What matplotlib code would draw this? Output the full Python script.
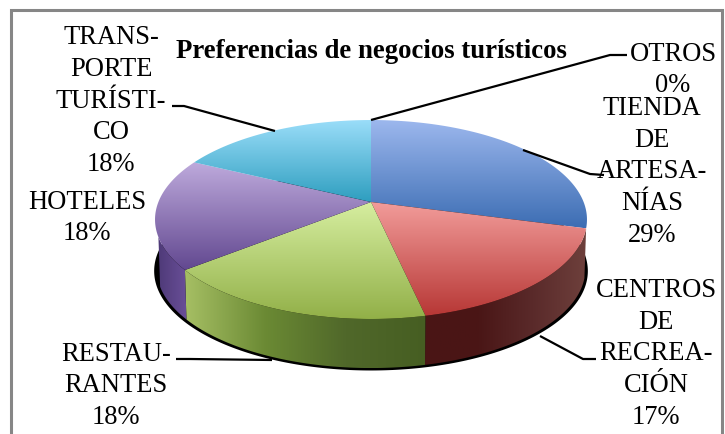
import numpy as np
import matplotlib
matplotlib.use("Agg")
import matplotlib.pyplot as plt
from matplotlib.colors import LinearSegmentedColormap as LSC
from matplotlib.patches import Polygon, Rectangle

title = "Preferencias de negocios turísticos"
categories = ["TIENDA\nDE\nARTESA-\nNÍAS", "CENTROS\nDE\nRECREA-\nCIÓN", "RESTAU-\nRANTES",
              "HOTELES", "TRANS-\nPORTE\nTURÍSTI-\nCO", "OTROS"]
values = [29.2, 17.4, 17.6, 18.1, 17.7, 0.0]
shown = [29, 17, 18, 18, 18, 0]
top_colors = [("#9DB8EE", "#3C6DB3"), ("#F29C9A", "#B73735"), ("#D6EEA0", "#92B048"),
              ("#BEAADC", "#624890"), ("#9ADDF9", "#2E9EBF")]
side_colors = [None, ["#4A1515", "#4A1616", "#5A2A2A", "#6E403C"],
               ["#A6BF64", "#6B8A34", "#50682A", "#465E22"],
               ["#4E3A78", "#6A4F98"], None]
label_pos = [(652, 172), (656, 354), (116, 386), (87, 218), (111, 101), (673, 70)]
leaders = [[(523, 151), (590, 175), (604, 176)], [(540, 337), (583, 360), (596, 360)],
           [(272, 361), (190, 360), (176, 360)], None,
           [(275, 132), (184, 107), (172, 107)], [(371, 121), (610, 56), (627, 56)]]

W, H = 725, 435
cx, cy, rx, ry, k, depth = 371, 203, 212.6, 96.4, 0.176, 50

plt.rcParams["font.family"] = ["Liberation Serif", "DejaVu Serif"]
fig = plt.figure(figsize=(W / 100, H / 100), dpi=100)
ax = fig.add_axes([0, 0, 1, 1])
ax.set_axis_off()


def project(theta, dy=0.0, scale=1.0):
    u, v = np.sin(theta), np.cos(theta)
    w = 1 + k * v
    return cx + scale * rx * u / w, cy + dy - scale * ry * v / w


def gradient(xy, colors, horizontal=False, z=2):
    poly = Polygon(xy, closed=True, fc="none", ec="none", transform=ax.transData)
    ax.add_patch(poly)
    data = np.linspace(0, 1, 256)
    data = data.reshape(1, -1) if horizontal else data.reshape(-1, 1)
    x0, x1, y0, y1 = xy[:, 0].min(), xy[:, 0].max(), xy[:, 1].min(), xy[:, 1].max()
    im = ax.imshow(data, cmap=LSC.from_list("g", list(colors)), extent=[x0, x1, y1, y0],
                   aspect="auto", interpolation="bilinear", zorder=z, origin="upper")
    im.set_clip_path(poly)


ax.add_patch(Rectangle((11, 11), 711, 440, fc="white", ec="#868686", lw=2.2, zorder=0))

# black rim below the disc
t = np.linspace(0, 2 * np.pi, 500)
bx, by = project(t, depth + 1.5, 1.0)
ax.add_patch(Polygon(np.c_[(bx - cx) * 1.004 + cx, by], closed=True, fc="black", ec="none", zorder=1))

edges = np.deg2rad(np.cumsum([0] + values) / sum(values) * 360)
for i in range(5):
    a, b = edges[i], edges[i + 1]
    arc = np.linspace(a, b, 120)
    ox, oy = project(arc)
    gradient(np.c_[np.r_[cx, ox], np.r_[cy, oy]], top_colors[i], z=4)
    lo, hi = max(a, np.deg2rad(100)), min(b, np.deg2rad(250))
    if hi > lo and side_colors[i]:
        s = np.linspace(lo, hi, 120)
        tx, ty = project(s)
        ux, uy = project(s, depth, 0.992)
        xy = np.c_[np.r_[tx, ux[::-1]], np.r_[ty, uy[::-1]]]
        gradient(xy, side_colors[i], horizontal=True, z=3)

for path in leaders:
    if path:
        p = np.array(path)
        ax.plot(p[:, 0], p[:, 1], color="black", lw=1.6, zorder=5, solid_capstyle="butt")

for name, pct, (x, y) in zip(categories, shown, label_pos):
    ax.text(x, y, f"{name}\n{pct}%", ha="center", va="center", ma="center", fontsize=19.1,
            linespacing=1.35, color="black", zorder=6)
ax.text(371.5, 51, title, ha="center", va="center", fontsize=19.3, fontweight="bold", color="black", zorder=6)

ax.set_xlim(0, W)
ax.set_ylim(H, 0)
fig.savefig("out.png", dpi=100)
